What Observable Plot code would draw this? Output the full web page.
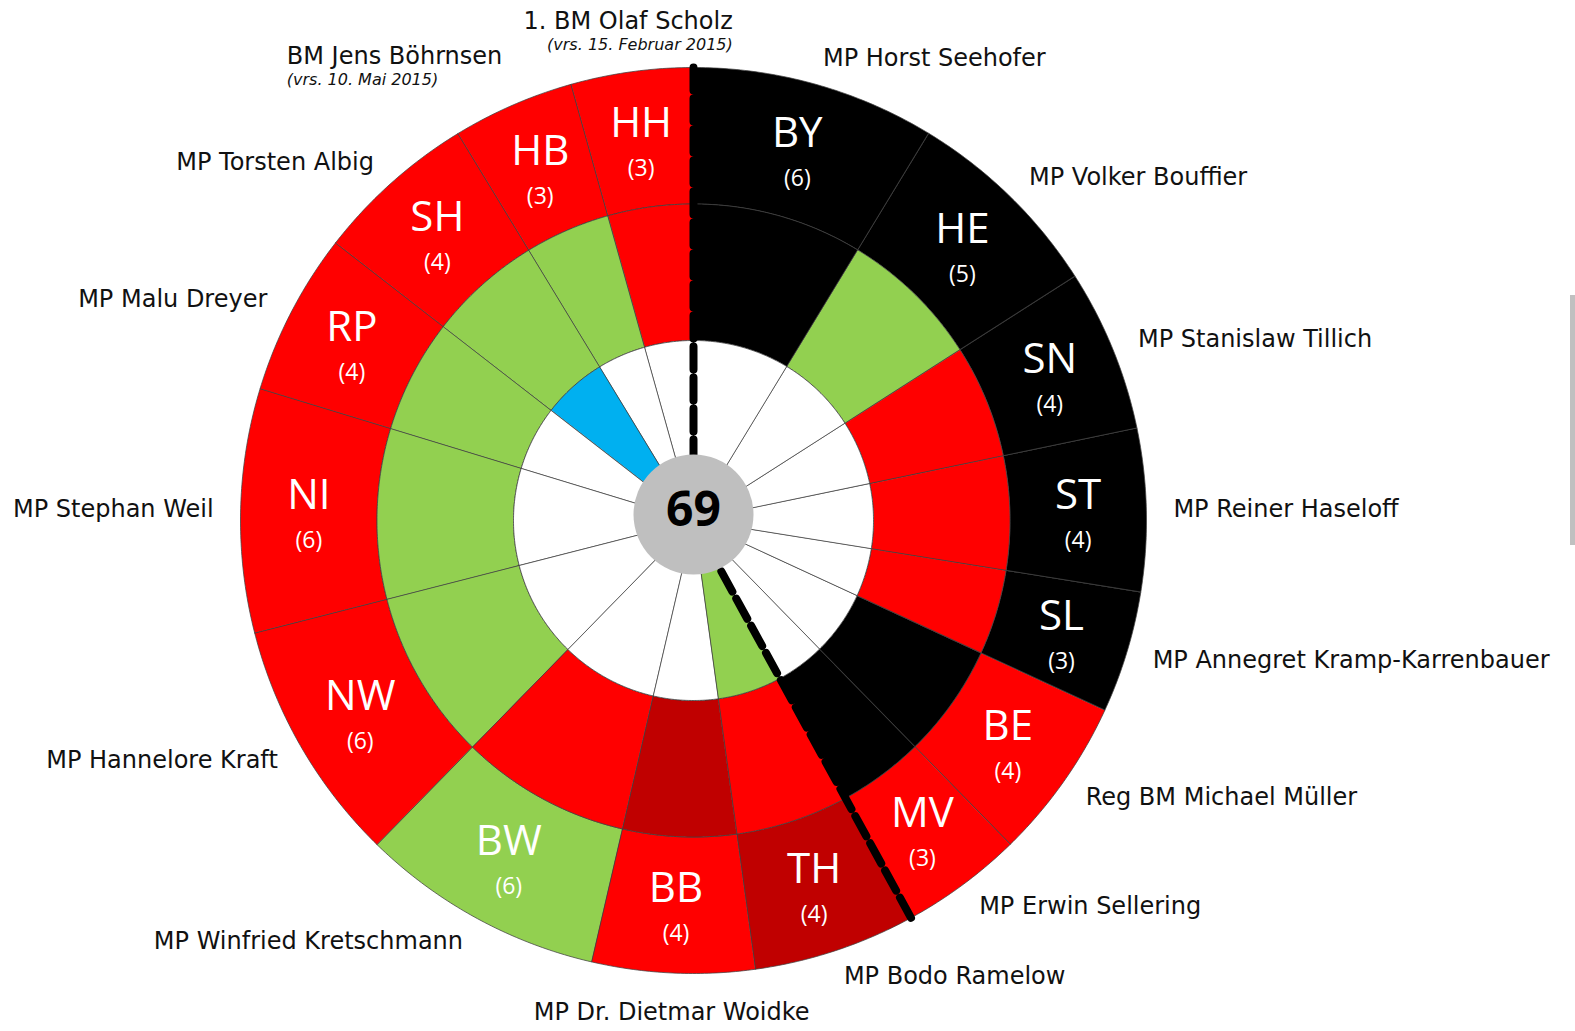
<!DOCTYPE html>
<html><head><meta charset="utf-8">
<script src="https://cdn.jsdelivr.net/npm/d3@7"></script>
<script src="https://cdn.jsdelivr.net/npm/@observablehq/plot@0.6"></script>
<style>
html,body{margin:0;padding:0;background:#fff;}
#chart{position:relative;width:1575px;height:1031px;overflow:hidden}
#bar{position:absolute;left:1570px;top:295px;width:5px;height:250px;background:#c0c0c0}
</style></head><body>
<div id="chart"><div id="bar"></div></div>
<script>
// ---- data ----
const states = ["BY","HE","SN","ST","SL","BE","MV","TH","BB","BW","NW","NI","RP","SH","HB","HH"];
const votes = [6,5,4,4,3,4,3,4,4,6,6,6,4,4,3,3];
const leadParty = ["CSU","CDU","CDU","CDU","CDU","SPD","SPD","Linke","SPD","Grüne","SPD","SPD","SPD","SPD","SPD","SPD"];
const partner1 = ["CSU","Grüne","SPD","SPD","SPD","CDU","CDU","SPD","Linke","SPD","Grüne","Grüne","Grüne","Grüne","Grüne","SPD"];
const partner2 = ["","","","","","","","Grüne","","","","","","SSW","",""];
const heads = ["MP Horst Seehofer","MP Volker Bouffier","MP Stanislaw Tillich","MP Reiner Haseloff","MP Annegret Kramp-Karrenbauer","Reg BM Michael Müller","MP Erwin Sellering","MP Bodo Ramelow","MP Dr. Dietmar Woidke","MP Winfried Kretschmann","MP Hannelore Kraft","MP Stephan Weil","MP Malu Dreyer","MP Torsten Albig","BM Jens Böhrnsen","1. BM Olaf Scholz"];
const headNotes = ["","","","","","","","","","","","","","","(vrs. 10. Mai 2015)","(vrs. 15. Februar 2015)"];
const splitAfter = ["HH","MV"];
const partyColors = {CSU:"#000000", CDU:"#000000", SPD:"#FF0000", "Grüne":"#92D050", Linke:"#C00000", SSW:"#00B0F0", "":"#FFFFFF"};

// ---- layout ----
const W = 1575, H = 1031, CX = 693, CY = 520;
const ringInner = 43.5, ringWidth = 136.5;
const outerR = ringInner + 3 * ringWidth;
const labelR = 480;

const total = d3.sum(votes);
const deg = 360 / total;
const cum = d3.cumsum(votes);
const segs = states.map((s, i) => ({state: s, votes: votes[i], a0: (cum[i] - votes[i]) * deg, a1: cum[i] * deg, i}));

function pt(r, a) { const t = a * Math.PI / 180; return [r * Math.sin(t), -r * Math.cos(t)]; }
function wedge(r0, r1, a0, a1) {
  const n = Math.max(2, Math.ceil((a1 - a0) / 0.5));
  const outer = d3.range(n + 1).map(k => pt(r1, a0 + (a1 - a0) * k / n));
  const inner = d3.range(n + 1).map(k => pt(r0, a1 - (a1 - a0) * k / n));
  return [...outer, ...inner, outer[0]];
}

const features = [];
[leadParty, partner1, partner2].forEach((arr, ri) => {
  const r1 = ringInner + ringWidth * (3 - ri), r0 = r1 - ringWidth;
  segs.forEach(s => features.push({type: "Feature", properties: {fill: partyColors[arr[s.i]]},
    geometry: {type: "Polygon", coordinates: [wedge(r0, r1, s.a0, s.a1)]}}));
});

const splitFeatures = splitAfter.map(s => {
  const a = (cum[states.indexOf(s)] * deg) % 360;
  return {type: "Feature", properties: {}, geometry: {type: "LineString", coordinates: [pt(outerR, a), pt(50, a)]}};
});

// state labels inside outer ring
const midR = outerR - ringWidth / 2;
const stateLabels = segs.map(s => {
  const [x, y] = pt(midR, (s.a0 + s.a1) / 2);
  return {x, y, state: s.state, v: "(" + s.votes + ")"};
});

// name labels outside
const ctx = document.createElement("canvas").getContext("2d");
ctx.font = "24px 'DejaVu Sans'";
const names = segs.map(s => {
  const a = (s.a0 + s.a1) / 2, t = a * Math.PI / 180;
  const sn = Math.sin(t), cs = Math.cos(t);
  const anchor = Math.abs(sn) < 0.2 ? "middle" : sn > 0 ? "start" : "end";
  let [x, y] = pt(labelR, a);
  const note = headNotes[s.i];
  const w = ctx.measureText(heads[s.i]).width;
  let ny = y, subX = x, subAnchor = "start";
  if (note) {
    ny = y - 24;
    if (anchor === "middle") { subX = x + w / 2; subAnchor = "end"; }
    else if (anchor === "end") { subX = x - w; subAnchor = "start"; }
    else { subX = x; subAnchor = "start"; }
  } else if (anchor === "middle") {
    ny = y - cs * 12;
  }
  return {x, y: ny, name: heads[s.i], anchor, note, subX, subY: y, subAnchor};
});

const nameMarks = ["start", "middle", "end"].map(an =>
  Plot.text(names.filter(d => d.anchor === an), {x: "x", y: "y", text: "name", textAnchor: an,
    fontSize: 24, fontFamily: "DejaVu Sans", fill: "#111"}));
const noteMarks = ["start", "end"].map(an =>
  Plot.text(names.filter(d => d.note && d.subAnchor === an), {x: "subX", y: "subY", text: "note", textAnchor: an,
    fontSize: 16, fontStyle: "italic", fontFamily: "DejaVu Sans", fill: "#111"}));

const chart = Plot.plot({
  width: W, height: H, margin: 0,
  style: {fontFamily: "DejaVu Sans", background: "#fff"},
  projection: {type: "identity", domain: {type: "MultiPoint", coordinates: [[-CX, -CY], [W - CX, H - CY]]}},
  color: {type: "identity"},
  marks: [
    Plot.geo(features, {fill: d => d.properties.fill, stroke: "#404040", strokeWidth: 0.75}),
    Plot.geo(splitFeatures, {stroke: "#000", strokeWidth: 8, strokeDasharray: "23,8", fill: "none"}),
    Plot.dot([total], {x: () => 0, y: () => -6, r: 60, fill: "#BFBFBF", stroke: null}),
    Plot.text([total], {x: () => 0, y: () => -10, text: d => String(d), fontSize: 48, fontWeight: 700, fontFamily: "Open Sans", fill: "#000"}),
    Plot.text(stateLabels, {x: "x", y: "y", text: "state", dy: -16, fontSize: 42, fontFamily: "Open Sans", fill: "#fff"}),
    Plot.text(stateLabels, {x: "x", y: "y", text: "v", dy: 29, fontSize: 23, fontFamily: "Open Sans", fill: "#fff"}),
    ...nameMarks,
    ...noteMarks
  ]
});
document.getElementById("chart").prepend(chart);
</script>
</body></html>
